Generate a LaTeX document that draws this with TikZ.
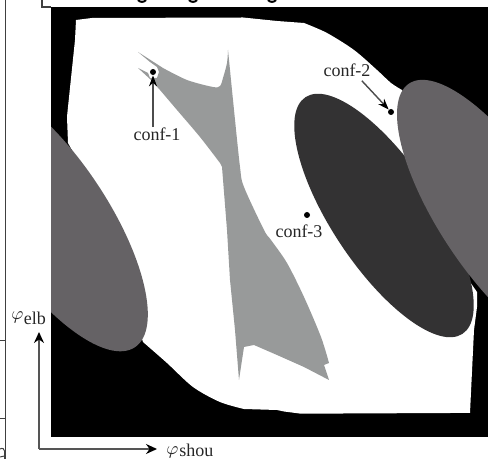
\documentclass[tikz,border=0pt]{standalone}
\usepackage{fontspec}
\setmainfont{Liberation Serif}
\usetikzlibrary{arrows.meta}
\definecolor{obstLight}{HTML}{989A9A}
\definecolor{obstMid}{HTML}{656265}
\definecolor{obstDark}{HTML}{333233}
\definecolor{wireGray}{HTML}{555555}
\tikzset{
	confdot/.style={shape=circle, fill=black, inner sep=0pt, minimum size=3pt},
	conflabel/.style={inner sep=0pt, font=\fontsize{9}{9}\selectfont, text=black!85},
	confarrow/.style={draw=black!70, line width=0.7pt, -{Stealth[length=5.5pt, width=4pt, black]}},
	axisarrow/.style={draw=wireGray, line width=0.8pt, -{Stealth[length=5.5pt, width=5pt, black]}},
	rimline/.style={draw=black!75, line width=0.5pt}
}
\begin{document}
\begin{tikzpicture}[x=0.5pt, y=-0.5pt]
	\useasboundingbox (0, 0) rectangle (488, 459);
	% Regions of the map:
	\begin{scope}
		\clip (51, 7) rectangle (488, 437);
		\fill[black] (51, 7) rectangle (488, 437);
		\fill[white] (76, 20) -- (92, 18) -- (243, 17.5) -- (277, 21)
			-- plot[smooth, tension=0.5] coordinates {(304, 23) (327, 33) (354, 50) (377, 70) (391, 83) (402, 90)}
			-- (420, 120) -- (470, 282) -- (477, 292) -- (477, 307) -- (474, 330) -- (470, 413) -- (451, 413) -- (301, 413.7) -- (284, 411.5) -- (277, 410)
			-- plot[smooth, tension=0.5] coordinates {(244, 409) (220, 402) (193, 387) (167, 363) (143, 342)}
			-- (100, 200) -- (68, 143) -- (67, 117) -- (68, 107) -- (75, 40) -- cycle;
		\fill[obstDark] (384, 215.5) ellipse [x radius=142, y radius=52, rotate=-56.4];
		\fill[obstMid] (48, 216.5) ellipse [x radius=157, y radius=59, rotate=-56.4];
		\fill[obstMid] (497, 216) ellipse [x radius=159, y radius=57, rotate=-56.4];
		\fill[obstLight] (138, 52) -- plot[smooth, tension=0.5] coordinates {(163, 68) (187, 80) (213, 87) (220, 86) (223, 78) (227, 63) (228, 50)}
			-- plot[smooth, tension=0.5] coordinates {(228, 50) (230, 70) (233, 100) (240, 167) (244, 187) (264, 230) (271, 240) (287, 263) (304, 297) (321, 337) (329, 363)}
			-- (324, 365) -- (329, 380) -- (304, 367) -- (277, 355) -- (254, 345) -- (244, 347) -- (242, 360) -- (239, 380) -- (235, 330) -- (230, 280) -- (227, 230) -- (222, 167) -- (220, 163)
			-- plot[smooth, tension=0.5] coordinates {(220, 163) (200, 137) (177, 110) (160, 90)}
			-- (150, 79) -- (138, 68) -- (148, 73) -- (150, 78) -- (157, 78) -- (159, 72) -- (157, 67) -- (150, 62) -- cycle;
	\end{scope}
	% Frame pieces around the map:
	\draw[rimline, line width=0.7pt] (42, 0) -- (42, 7) -- (51, 7);
	\draw[line width=1pt] (138, 0) .. controls (140, 2.5) and (144, 2.5) .. (146, 0);
	\draw[line width=1pt] (189, 0) .. controls (191, 2.5) and (195, 2.5) .. (197, 0);
	\draw[line width=1pt] (268, 0) .. controls (270, 2.5) and (274, 2.5) .. (276, 0);
	\draw[rimline] (5.5, 0) -- (5.5, 459);
	\draw[rimline] (0, 341) -- (5.5, 341);
	\draw[rimline] (0, 418.5) -- (5.5, 418.5);
	\draw[rimline] (0, 449) .. controls (3, 447.5) and (4, 449) .. (4.5, 451) -- (4.5, 459);
	\draw[rimline] (0, 457) -- (4.5, 456);
	% Configurations:
	\node[confdot] (conf1) at (153, 72){};
	\node[confdot] (conf2) at (391, 112){};
	\node[confdot] (conf3) at (307, 215){};
	\node[conflabel] (conf1label) at (157, 134){conf-1};
	\node[conflabel] (conf2label) at (347, 70){conf-2};
	\node[conflabel] (conf3label) at (299, 231){conf-3};
	\draw[confarrow] (conf1label.north -| conf1) -- (conf1);
	\draw[confarrow] (conf2label.south east) ++(-9, 4) -- (conf2);
	% Axes:
	\node[conflabel, anchor=base west] (elblabel) at (11, 325){\raisebox{2.5pt}{$\varphi$}\hspace{0.2pt}elb};
	\node[conflabel, anchor=base west] (shoulabel) at (166, 457){\raisebox{1pt}{$\varphi$}\hspace{0.5pt}shou};
	\coordinate (axisorigin) at (39, 449);
	\coordinate (axisup) at (39, 332);
	\coordinate (axisright) at (157, 449);
	\draw[axisarrow] (axisorigin) -- (axisup);
	\draw[axisarrow] (axisorigin) -- (axisright);
\end{tikzpicture}
\end{document}
